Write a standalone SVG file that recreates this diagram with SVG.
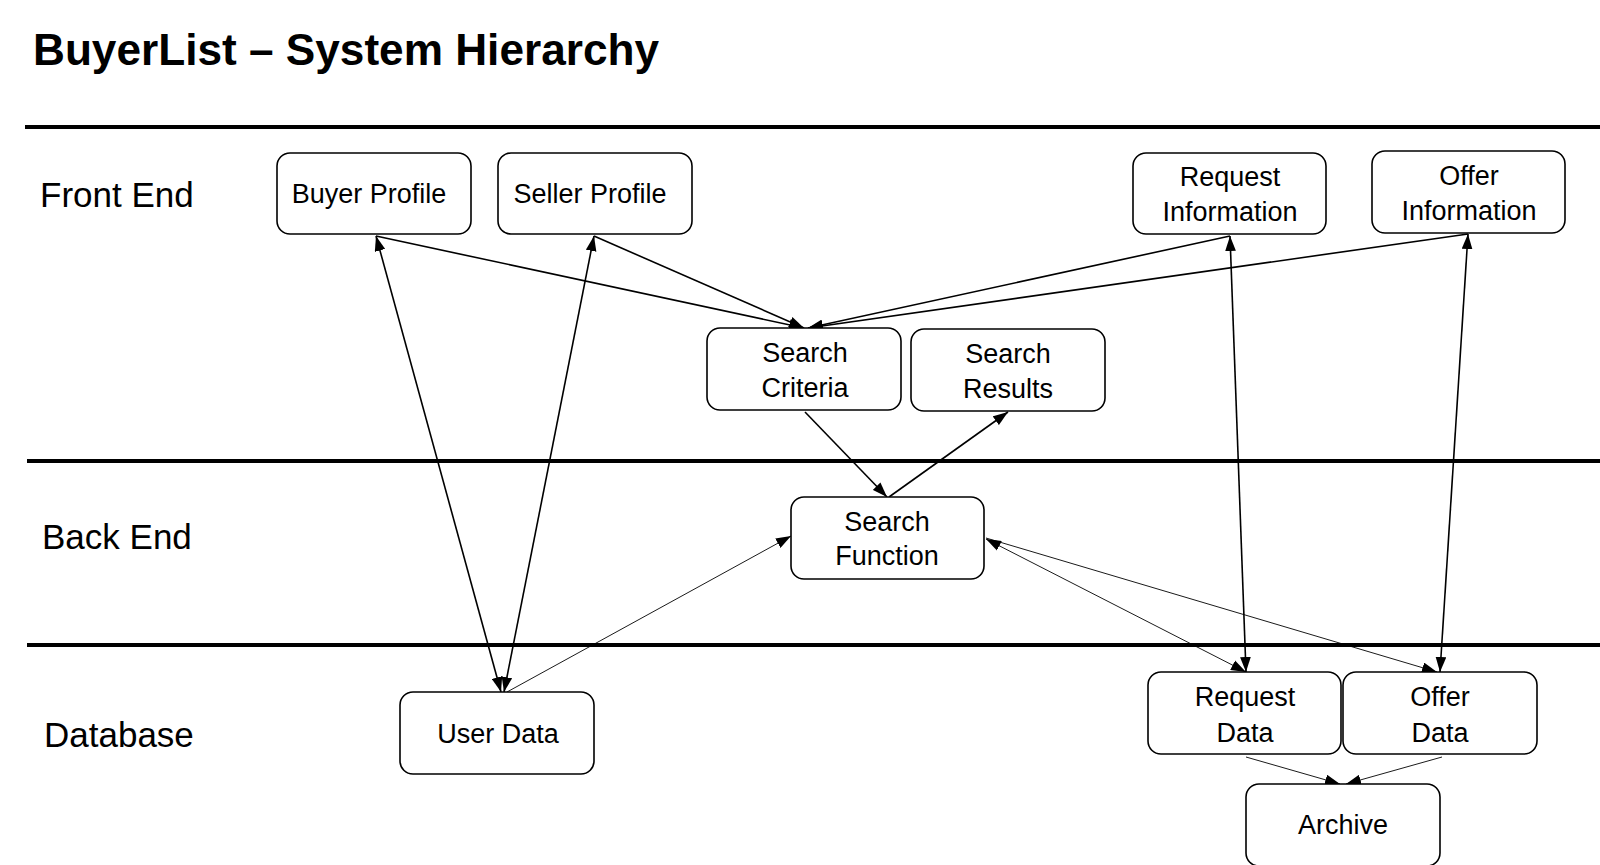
<svg xmlns="http://www.w3.org/2000/svg" width="1600" height="865" viewBox="0 0 1600 865">
<style>
text{font-family:"Liberation Sans",Arial,sans-serif;fill:#000}
.title{font-size:44px;font-weight:bold}
.sec{font-size:35px}
.node rect{fill:#fff;stroke:#000;stroke-width:1.6}
.node text{font-size:27px;text-anchor:middle}
.band{stroke:#000;stroke-width:4}
.c{fill:none;stroke:#000;stroke-width:1.6}
.t{fill:none;stroke:#000;stroke-width:0.9}
</style>
<defs>
<marker id="ae" viewBox="0 0 14 10" refX="14" refY="5" markerWidth="15" markerHeight="11" markerUnits="userSpaceOnUse" orient="auto"><path d="M0,0 L14,5 L0,10 z" fill="#000"/></marker>
<marker id="as" viewBox="0 0 14 10" refX="0" refY="5" markerWidth="15" markerHeight="11" markerUnits="userSpaceOnUse" orient="auto"><path d="M14,0 L0,5 L14,10 z" fill="#000"/></marker>
</defs>
<rect width="1600" height="865" fill="#fff"/>
<text class="title" x="33" y="65" textLength="626" lengthAdjust="spacingAndGlyphs">BuyerList – System Hierarchy</text>
<g id="bands">
<line class="band" x1="25" y1="127" x2="1600" y2="127"/>
<line class="band" x1="27" y1="461" x2="1600" y2="461"/>
<line class="band" x1="27" y1="645" x2="1600" y2="645"/>
<text class="sec" x="40" y="207">Front End</text>
<text class="sec" x="42" y="549">Back End</text>
<text class="sec" x="44" y="747">Database</text>
</g>
<g id="connectors">
<line class="c" x1="376" y1="236" x2="501" y2="692" marker-start="url(#as)" marker-end="url(#ae)"/>
<line class="c" x1="594" y1="236" x2="504" y2="692" marker-start="url(#as)" marker-end="url(#ae)"/>
<line class="t" x1="507" y1="692" x2="791" y2="536" marker-end="url(#ae)"/>
<line class="c" x1="376" y1="236" x2="804" y2="328" marker-end="url(#ae)"/>
<line class="c" x1="594" y1="236" x2="804" y2="328" marker-end="url(#ae)"/>
<line class="c" x1="1230" y1="236" x2="808" y2="328" marker-end="url(#ae)"/>
<line class="c" x1="1468" y1="234" x2="808" y2="328" marker-end="url(#ae)"/>
<line class="c" x1="805" y1="412" x2="887" y2="497" marker-end="url(#ae)"/>
<line class="c" x1="889" y1="497" x2="1008" y2="412" marker-end="url(#ae)"/>
<line class="c" x1="1230" y1="236" x2="1246" y2="672" marker-start="url(#as)" marker-end="url(#ae)"/>
<line class="c" x1="1468" y1="234" x2="1440" y2="672" marker-start="url(#as)" marker-end="url(#ae)"/>
<line class="t" x1="986" y1="539" x2="1246" y2="672" marker-start="url(#as)" marker-end="url(#ae)"/>
<line class="t" x1="986" y1="538" x2="1437" y2="672" marker-end="url(#ae)"/>
<line class="t" x1="1246" y1="757" x2="1340" y2="784" marker-end="url(#ae)"/>
<line class="t" x1="1442" y1="757" x2="1346" y2="784" marker-end="url(#ae)"/>
</g>
<g id="buyer-profile" class="node"><rect x="277" y="153" width="194" height="81" rx="13"/><text x="369" y="203">Buyer Profile</text></g>
<g id="seller-profile" class="node"><rect x="498" y="153" width="194" height="81" rx="13"/><text x="590" y="203">Seller Profile</text></g>
<g id="request-information" class="node"><rect x="1133" y="153" width="193" height="81" rx="13"/><text x="1230" y="186">Request</text><text x="1230" y="221">Information</text></g>
<g id="offer-information" class="node"><rect x="1372" y="151" width="193" height="82" rx="13"/><text x="1469" y="185">Offer</text><text x="1469" y="220">Information</text></g>
<g id="search-criteria" class="node"><rect x="707" y="328" width="194" height="82" rx="13"/><text x="805" y="362">Search</text><text x="805" y="397">Criteria</text></g>
<g id="search-results" class="node"><rect x="911" y="329" width="194" height="82" rx="13"/><text x="1008" y="363">Search</text><text x="1008" y="398">Results</text></g>
<g id="search-function" class="node"><rect x="791" y="497" width="193" height="82" rx="13"/><text x="887" y="531">Search</text><text x="887" y="565">Function</text></g>
<g id="user-data" class="node"><rect x="400" y="692" width="194" height="82" rx="13"/><text x="498" y="743">User Data</text></g>
<g id="request-data" class="node"><rect x="1148" y="672" width="193" height="82" rx="13"/><text x="1245" y="706">Request</text><text x="1245" y="742">Data</text></g>
<g id="offer-data" class="node"><rect x="1343" y="672" width="194" height="82" rx="13"/><text x="1440" y="706">Offer</text><text x="1440" y="742">Data</text></g>
<g id="archive" class="node"><rect x="1246" y="784" width="194" height="82" rx="13"/><text x="1343" y="834">Archive</text></g>
</svg>
